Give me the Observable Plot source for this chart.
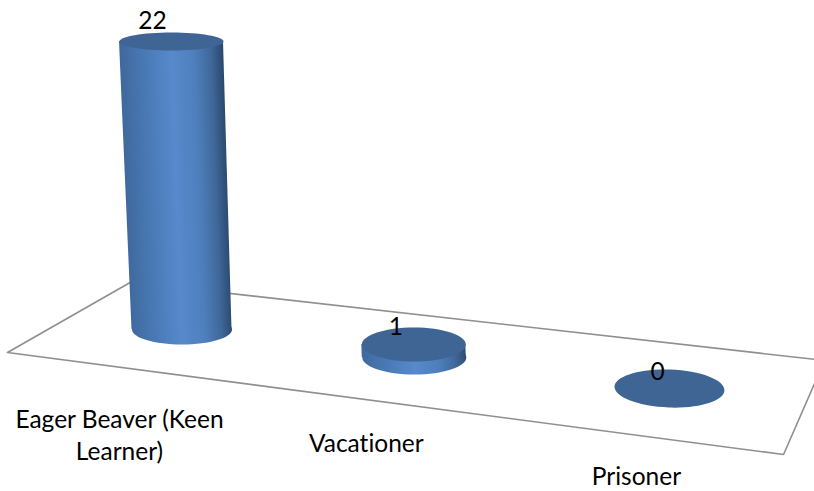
<!DOCTYPE html>
<html>
<head>
<meta charset="utf-8">
<script src="https://cdn.jsdelivr.net/npm/d3@7"></script>
<script src="https://cdn.jsdelivr.net/npm/@observablehq/plot@0.6"></script>
<style>html,body{margin:0;padding:0;background:#fff}svg{display:block}text{font-variant-ligatures:none}</style>
</head>
<body>
<div id="chart"></div>
<script>
const categories = ["Eager Beaver (Keen\nLearner)", "Vacationer", "Prisoner"];
const values = [22, 1, 0];

// Perspective of the 3D floor, in scale units
const slots = [0, 0.953, 2];
const floorLevels = [0, -2.14, -4.51];
const lean = -0.00196;
const pxPerSlot = 243.75;
const floorOutline = [[-0.716, -1.757], [-0.211, 3.613], [2.636, -2.368], [2.468, -9.549], [-0.716, -1.757]];

// Pixel styling per cylinder
const baseRadii = [[50, 15, 0], [52, 17, 0], [55, 19, 2]];
const topRadii = [[52, 9, 0], [52, 17, 0], [55, 19, 2]];
const valueOffsets = [[-19, -20], [-18, -17], [-12, -16]];
const labelOffsets = [[-62.5, 105], [-48, 85], [-33, 87]];

const ellipse = ([rx, ry]) => ({
  draw(ctx) {
    const k = 0.5522848;
    ctx.moveTo(-rx, 0);
    ctx.bezierCurveTo(-rx, -k * ry, -k * rx, -ry, 0, -ry);
    ctx.bezierCurveTo(k * rx, -ry, rx, -k * ry, rx, 0);
    ctx.bezierCurveTo(rx, k * ry, k * rx, ry, 0, ry);
    ctx.bezierCurveTo(-k * rx, ry, -rx, k * ry, -rx, 0);
    ctx.closePath();
  }
});

const stops = [[0, "#3f699e"], [0.25, "#4a7ab6"], [0.5, "#5789cc"], [0.72, "#4e7fbd"], [0.88, "#40699b"], [1, "#2b4a70"]];
const topColor = "#3f6594";

const gradients = (index, {x, y}) => {
  const defs = d3.create("svg:defs");
  values.forEach((v, i) => {
    const bx = x(slots[i]), by = y(floorLevels[i]);
    const tx = x(slots[i] + lean * v), ty = y(floorLevels[i] + v);
    const len = Math.hypot(tx - bx, ty - by) || 1;
    const nx = (by - ty) / len, ny = (tx - bx) / len;
    const r = baseRadii[i][0] + 1;
    // one gradient for the side (chart space), one for the base dot (its own translated space)
    [[`cyl${i}`, bx, by], [`cylbase${i}`, 0, 0]].forEach(([id, ox, oy]) => {
      const g = defs.append("linearGradient")
        .attr("id", id).attr("gradientUnits", "userSpaceOnUse")
        .attr("x1", ox - nx * r).attr("y1", oy - ny * r)
        .attr("x2", ox + nx * r).attr("y2", oy + ny * r);
      stops.forEach(([o, c]) => g.append("stop").attr("offset", o).attr("stop-color", c));
    });
  });
  return defs.node();
};

const marks = [
  gradients,
  Plot.line(floorOutline, {x: d => d[0], y: d => d[1], stroke: "#8f8f8f", strokeWidth: 1.6, fill: "#fff", strokeLinejoin: "miter"})
];

values.forEach((v, i) => {
  const base = [{s: slots[i], l: floorLevels[i]}];
  const top = [{s: slots[i] + lean * v, l: floorLevels[i] + v}];
  if (v > 0) {
    const rb = baseRadii[i][0] / pxPerSlot, rt = topRadii[i][0] / pxPerSlot;
    const side = [
      {y: base[0].l, x1: base[0].s - rb, x2: base[0].s + rb},
      {y: top[0].l, x1: top[0].s - rt, x2: top[0].s + rt}
    ];
    marks.push(
      Plot.dot(base, {x: "s", y: "l", r: 10, symbol: ellipse(baseRadii[i]), fill: `url(#cylbase${i})`, stroke: "none"}),
      Plot.areaX(side, {y: "y", x1: "x1", x2: "x2", fill: `url(#cyl${i})`, curve: "linear"})
    );
  }
  marks.push(
    Plot.dot(top, {x: "s", y: "l", r: 10, symbol: ellipse(topRadii[i]), rotate: topRadii[i][2], fill: topColor, stroke: "none"})
  );
});

values.forEach((v, i) => {
  const textStyle = {fill: "#000", fontFamily: "Lato, Carlito, sans-serif", fontSize: 24.5, stroke: "none"};
  marks.push(
    Plot.text([{s: slots[i] + lean * v, l: floorLevels[i] + v, t: String(v)}], {
      x: "s", y: "l", text: "t", dx: valueOffsets[i][0], dy: valueOffsets[i][1], ...textStyle
    }),
    Plot.text([{s: slots[i], l: floorLevels[i], t: categories[i]}], {
      x: "s", y: "l", text: "t", dx: labelOffsets[i][0], dy: labelOffsets[i][1] - 1, lineHeight: 1.31, lineAnchor: "middle", ...textStyle
    })
  );
});

const chart = Plot.plot({
  width: 814,
  height: 491,
  margin: 0,
  style: {background: "#fff", overflow: "hidden"},
  x: {domain: [0, 2], range: [181.5, 669], axis: null},
  y: {domain: [0, 22], range: [329, 41], axis: null},
  marks
});
document.getElementById("chart").append(chart);
</script>
</body>
</html>
